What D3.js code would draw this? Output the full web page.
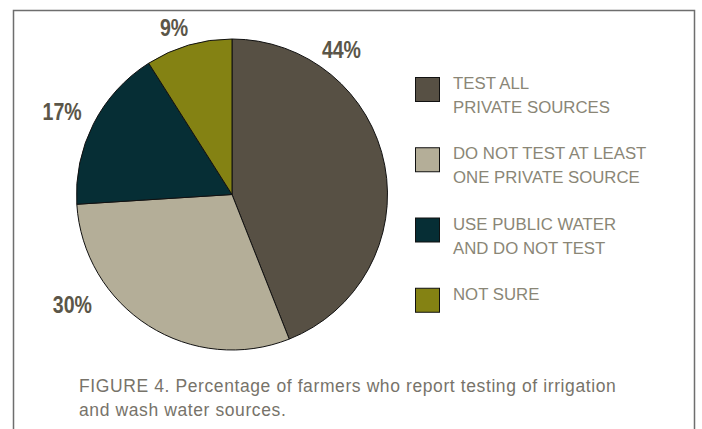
<!DOCTYPE html>
<html>
<head>
<meta charset="utf-8">
<script src="https://cdn.jsdelivr.net/npm/d3@7"></script>
<style>
	body { margin: 0; background: #fff; }
	svg { display: block; }
</style>
</head>
<body>
<script>
// Data
var categories = ["TEST ALL\nPRIVATE SOURCES", "DO NOT TEST AT LEAST\nONE PRIVATE SOURCE", "USE PUBLIC WATER\nAND DO NOT TEST", "NOT SURE"];
var values = [44, 30, 17, 9];
var colors = ["#575044", "#b4ae98", "#062e35", "#848213"];
var caption = ["FIGURE 4. Percentage of farmers who report testing of irrigation", "and wash water sources."];

var W = 702, H = 429;
var cx = 232, cy = 194.5, R = 155.5;

var svg = d3.select("body")
	.append("svg")
	.attr("width", W)
	.attr("height", H);

// Frame (open at the bottom)
svg.append("path")
	.attr("d", "M13.5," + H + "V10.5H694.5V" + H)
	.attr("fill", "none")
	.attr("stroke", "#6e6e6e")
	.attr("stroke-width", 1.5);

var pie = d3.pie().sort(null).value(d => d);
var arcs = pie(values);
var arc = d3.arc().innerRadius(0).outerRadius(R);

var g = svg.append("g").attr("transform", "translate(" + cx + "," + cy + ")");

g.selectAll("path")
	.data(arcs)
	.join("path")
	.attr("d", arc)
	.attr("fill", (d, i) => colors[i])
	.attr("stroke", "#111")
	.attr("stroke-width", 1);

// Percentage labels: offset from the slice mid angle (degrees) and distance from centre
var labelShift = [-42, 23, -1, -3];
var labelDist = [181, 194, 189, 176];

g.selectAll("text.pct")
	.data(arcs)
	.join("text")
	.attr("class", "pct")
	.attr("transform", function(d, i) {
		var a = (d.startAngle + d.endAngle) / 2 + labelShift[i] * Math.PI / 180;
		var x = Math.sin(a) * labelDist[i], y = -Math.cos(a) * labelDist[i];
		// squeeze horizontally to mimic the condensed face
		return "translate(" + x + "," + (y + 8) + ") scale(0.85,1)";
	})
	.attr("text-anchor", "middle")
	.attr("font-family", "'Liberation Sans', Arial, sans-serif")
	.attr("font-weight", "bold")
	.attr("font-size", 23)
	.attr("fill", "#5b5648")
	.text(d => d.data + "%");

// Legend
var ly = d3.scaleBand().domain(d3.range(categories.length)).range([77, 358]);

var leg = svg.selectAll("g.leg")
	.data(categories)
	.join("g")
	.attr("class", "leg")
	.attr("transform", (d, i) => "translate(415," + ly(i) + ")");

leg.append("rect")
	.attr("x", 0.5)
	.attr("y", 0.5)
	.attr("width", 24)
	.attr("height", 24)
	.attr("fill", (d, i) => colors[i])
	.attr("stroke", "#111")
	.attr("stroke-width", 1);

leg.append("text")
	.attr("font-family", "'Liberation Sans', Arial, sans-serif")
	.attr("font-size", 16.8)
	.attr("fill", "#8a8676")
	.selectAll("tspan")
	.data(d => d.split("\n"))
	.join("tspan")
	.attr("x", 38)
	.attr("y", (d, i) => 12 + i * 24)
	.text(d => d);

// Caption
svg.append("text")
	.attr("font-family", "'Liberation Sans', Arial, sans-serif")
	.attr("font-size", 17.5)
	.attr("letter-spacing", 0.6)
	.attr("fill", "#77736a")
	.selectAll("tspan")
	.data(caption)
	.join("tspan")
	.attr("x", 79)
	.attr("y", (d, i) => 392 + i * 24)
	.text(d => d);
</script>
</body>
</html>
